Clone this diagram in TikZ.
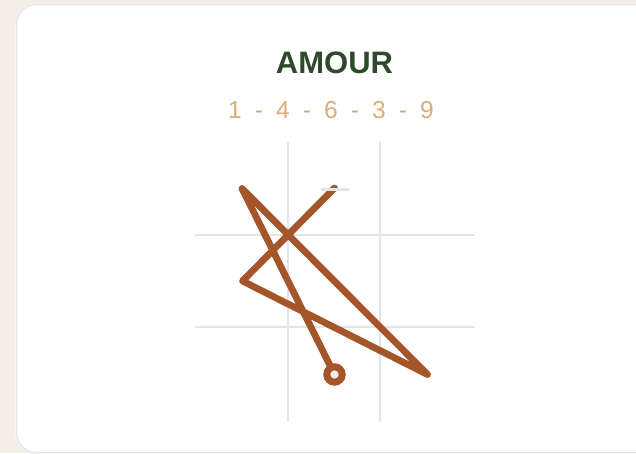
\documentclass[tikz,border=0pt]{standalone}
\usepackage{fontspec}
\setmainfont{Liberation Sans}
\usetikzlibrary{calc}
\definecolor{pagebg}{HTML}{F3EFE4}
\definecolor{cardedge}{HTML}{E2E2E8}
\definecolor{titlegreen}{HTML}{2E4A2B}
\definecolor{seqtan}{HTML}{D9AE78}
\definecolor{gridgray}{HTML}{E4E4E9}
\definecolor{strokebrown}{HTML}{A5552A}

\begin{document}
\begin{tikzpicture}[x=1pt,y=-1pt,
    gridline/.style={draw=gridgray,line width=2pt},
    strokeline/.style={draw=strokebrown,line width=6.8pt,line cap=round,line join=round},
    seqchar/.style={text=seqtan,anchor=base,font=\fontsize{24.5}{28}\selectfont}]
    \useasboundingbox (0,0) rectangle (636,453);
    \clip (0,0) rectangle (636,453);

    % --- 1. page and card ---
    \fill[pagebg] (0,0) rectangle (636,453);
    \fill[black!4,rounded corners=21pt] (15,3.5) rectangle (700,454);
    \filldraw[fill=white,draw=cardedge,line width=1pt,rounded corners=20pt] (16.5,4.5) rectangle (700,452.5);

    % --- 2. title and sequence ---
    \node[text=titlegreen,anchor=base,font=\bfseries\fontsize{31}{36}\selectfont] (title) at (334.5,73.3) {AMOUR};
    \foreach \d [count=\i from 0] in {1,4,6,3,9} {
        \node[seqchar] (d\i) at (235+48*\i,118.3) {\d};
    }
    \foreach \i in {0,...,3} {
        \node[seqchar] (h\i) at (259+48*\i,118.3) {-};
    }

    % --- 3. grid ---
    \draw[gridline] (287.5,142) -- (287.5,422);
    \draw[gridline] (379.5,142) -- (379.5,422);
    \draw[gridline] (195,234.5) -- (475,234.5);
    \draw[gridline] (195,326.5) -- (475,326.5);

    % --- 4. stroke points ---
    \coordinate (s1) at (334.5,374.5);
    \coordinate (s4) at (242,188.5);
    \coordinate (s6) at (427.5,374.5);
    \coordinate (s3) at (242.5,281);
    \coordinate (s9) at (334.5,188);

    % --- 5. stroke, start dot, end mark ---
    \draw[strokeline] (s1) -- (s4) -- (s6) -- (s3) -- (s9);
    \filldraw[fill=pagebg,draw=strokebrown,line width=7pt] (s1) circle (7.7);
    \draw[gridgray,line width=2.5pt] ($(s9)+(-13.5,1.3)$) -- ($(s9)+(14,1.3)$);
\end{tikzpicture}
\end{document}
